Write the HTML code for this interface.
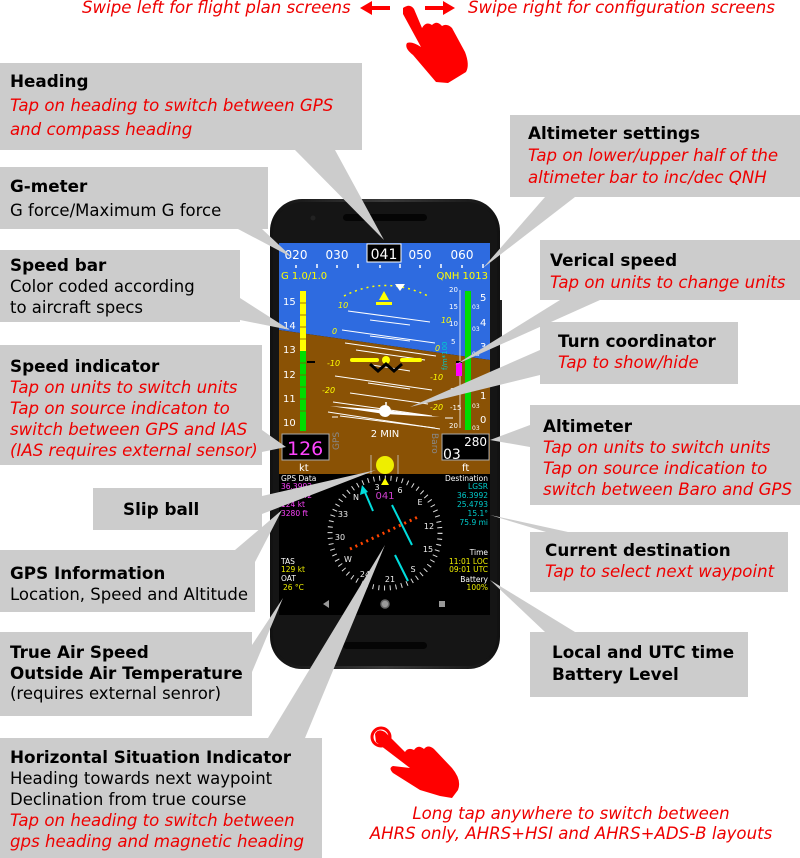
<!DOCTYPE html>
<html><head><meta charset="utf-8"><style>
html,body{margin:0;padding:0;background:#fff;width:800px;height:858px;overflow:hidden}
svg{display:block;font-family:"DejaVu Sans","Liberation Sans",sans-serif}
.t{font-weight:bold;font-size:16.8px;fill:#000}
.b{font-size:16.5px;fill:#000}
.r{font-size:16.6px;fill:#e00;font-style:italic}
.g{fill:#cccccc}
</style></head><body>
<svg width="800" height="858" viewBox="0 0 800 858">
<defs>
<clipPath id="scr"><rect x="279" y="243" width="211" height="372"/></clipPath>
<linearGradient id="ph" x1="0" y1="0" x2="1" y2="0"><stop offset="0" stop-color="#111"/><stop offset="0.5" stop-color="#3a3a3a"/><stop offset="1" stop-color="#111"/></linearGradient>
</defs>
<!-- top text -->
<text x="82" y="13" class="r">Swipe left for flight plan screens</text>
<text x="468" y="13" class="r">Swipe right for configuration screens</text>
<path d="M360 8 L372 1 L372 6 L390 6 L390 10 L372 10 L372 15 Z" fill="#f00"/>
<path d="M455 8 L443 1 L443 6 L425 6 L425 10 L443 10 L443 15 Z" fill="#f00"/>
<path d="M403 8 Q410 3 414 9 L422 28 Q426 21 432 25 Q437 20 442 26 Q447 23 452 28 L465 52 Q470 65 466 72 L448 83 L436 82 L413 55 Q404 48 407 43 Q412 41 421 47 L403 14 Z" fill="#f00"/>
<!-- bottom hand -->
<circle cx="381" cy="737" r="9" fill="none" stroke="#f00" stroke-width="3"/>
<path d="M375 734 Q378 728 385 732 L405 752 Q408 747 414 750 Q418 744 424 749 Q428 744 434 749 L452 768 Q462 780 458 790 L452 798 L440 796 L420 790 L393 773 Q388 768 393 766 L410 768 L376 742 Z" fill="#f00"/>
<text x="571" y="819" class="r" text-anchor="middle">Long tap anywhere to switch between</text>
<text x="571" y="839" class="r" text-anchor="middle">AHRS only, AHRS+HSI and AHRS+ADS-B layouts</text>

<!-- phone -->
<rect x="498" y="300" width="4" height="40" fill="#222"/>
<rect x="270" y="199" width="230" height="470" rx="32" fill="url(#ph)"/>
<rect x="273" y="202" width="224" height="464" rx="30" fill="#151515"/>
<rect x="343" y="214" width="84" height="7" rx="3.5" fill="#050505"/>
<circle cx="313" cy="218" r="2.5" fill="#222"/>
<rect x="343" y="642" width="84" height="7" rx="3.5" fill="#050505"/>
<rect x="279" y="243" width="211" height="372" fill="#000"/>
<g clip-path="url(#scr)">
<polygon points="279,243 490,243 490,360 279,330" fill="#2e6be0"/>
<polygon points="279,330 490,360 490,474 279,474" fill="#8a5205"/>
<g fill="#fff" font-size="12" text-anchor="middle">
<text x="296" y="259">020</text><text x="337" y="259">030</text><text x="420" y="259">050</text><text x="462" y="259">060</text></g>
<rect x="367" y="244" width="34" height="18" fill="#000" stroke="#fff" stroke-width="1"/>
<text x="384" y="259" fill="#fff" font-size="14" text-anchor="middle">041</text>
<g stroke="#fff" stroke-width="1.5"><line x1="296" y1="265" x2="296" y2="268"/><line x1="317" y1="264" x2="317" y2="268"/><line x1="337" y1="265" x2="337" y2="268"/><line x1="358" y1="264" x2="358" y2="268"/><line x1="380" y1="265" x2="380" y2="268"/><line x1="400" y1="264" x2="400" y2="268"/><line x1="420" y1="265" x2="420" y2="268"/><line x1="441" y1="264" x2="441" y2="268"/><line x1="462" y1="265" x2="462" y2="268"/><line x1="483" y1="264" x2="483" y2="268"/></g>
<text x="281" y="279" fill="#ff0" font-size="10">G 1.0/1.0</text>
<text x="488" y="279" fill="#ff0" font-size="10" text-anchor="end">QNH 1013</text>
<path d="M344 296 Q385 275 428 296" fill="none" stroke="#ff0" stroke-width="1.5" stroke-dasharray="2 4"/>
<polygon points="395,284 405,284 400,291" fill="#fff"/>
<polygon points="384,291 379,300 389,300" fill="#ff0"/>
<rect x="376" y="302" width="16" height="3" fill="#ff0"/>
<g stroke="#fff" stroke-width="1">
<line x1="348" y1="311" x2="430" y2="322"/><line x1="370" y1="320" x2="410" y2="325"/>
<line x1="342" y1="330" x2="435" y2="343"/><line x1="370" y1="336" x2="410" y2="341"/>
<line x1="356" y1="350" x2="425" y2="360"/>
<line x1="345" y1="343" x2="436" y2="356"/>
<line x1="372" y1="365" x2="410" y2="371"/>
<line x1="335" y1="376" x2="432" y2="390"/><line x1="368" y1="383" x2="410" y2="389"/>
<line x1="350" y1="393" x2="428" y2="404"/>
<line x1="333" y1="402" x2="432" y2="416"/>
<line x1="340" y1="416" x2="435" y2="428"/>
<line x1="328" y1="412" x2="440" y2="429"/>
<line x1="332" y1="417" x2="338" y2="417"/><line x1="445" y1="418" x2="453" y2="418"/>
</g>
<g fill="#ff0" font-size="8" font-style="italic">
<text x="338" y="308">10</text><text x="441" y="323">10</text><text x="332" y="334">0</text><text x="435" y="351">0</text>
<text x="327" y="366">-10</text><text x="430" y="380">-10</text><text x="322" y="393">-20</text><text x="430" y="410">-20</text></g>
<rect x="350" y="358" width="29" height="4" rx="2" fill="#ff0"/>
<rect x="400" y="358" width="22" height="4" rx="2" fill="#ff0"/>
<circle cx="386" cy="360" r="4" fill="#ff0"/>
<path d="M370 364 L378 371 L386 364 L394 371 L402 364" fill="none" stroke="#000" stroke-width="3"/>
<polygon points="330,406 385,410 440,417 385,414" fill="#fff"/>
<line x1="386" y1="402" x2="386" y2="410" stroke="#fff" stroke-width="1.5"/>
<circle cx="385" cy="411" r="6" fill="#fff"/>
<text x="385" y="437" fill="#fff" font-size="10" text-anchor="middle">2 MIN</text>
<rect x="300" y="291" width="6" height="60" fill="#ff0"/>
<rect x="300" y="351" width="6" height="80" fill="#0d0"/>
<g stroke="#8a5205" stroke-width="0.8"><line x1="300" y1="303" x2="306" y2="303"/><line x1="300" y1="315" x2="306" y2="315"/><line x1="300" y1="327" x2="306" y2="327"/><line x1="300" y1="339" x2="306" y2="339"/><line x1="300" y1="363" x2="306" y2="363"/><line x1="300" y1="375" x2="306" y2="375"/><line x1="300" y1="387" x2="306" y2="387"/><line x1="300" y1="399" x2="306" y2="399"/><line x1="300" y1="411" x2="306" y2="411"/></g>
<path d="M307 362 L315 362" stroke="#000" stroke-width="2"/>
<g fill="#fff" font-size="10"><text x="283" y="305">15</text><text x="283" y="329">14</text><text x="283" y="353">13</text><text x="283" y="378">12</text><text x="283" y="402">11</text><text x="283" y="426">10</text></g>
<rect x="282" y="434" width="47" height="26" fill="#000" stroke="#aaa" stroke-width="1"/>
<text x="287" y="455" fill="#ff44ff" font-size="19">126</text>
<text x="299" y="471" fill="#fff" font-size="10">kt</text>
<text transform="translate(339,450) rotate(-90)" fill="#888" font-size="9">GPS</text>
<line x1="460" y1="290" x2="460" y2="428" stroke="#fff" stroke-width="0.8"/>
<g fill="#fff" font-size="7"><text x="449" y="292">20</text><text x="449" y="309">15</text><text x="449" y="326">10</text><text x="451" y="344">5</text><text x="450" y="393">15</text><text x="450" y="410">-15</text><text x="449" y="428">20</text></g>
<text transform="translate(447,370) rotate(-90)" fill="#0cc" font-size="7">f/m*100</text>
<rect x="456" y="362" width="6" height="14" fill="#f0f"/>
<rect x="465" y="291" width="6" height="139" fill="#0d0"/>
<g fill="#fff" font-size="6"><text x="472" y="309">03</text><text x="472" y="331">03</text><text x="472" y="356">03</text><text x="472" y="408">03</text><text x="472" y="430">03</text></g>
<g fill="#fff" font-size="10"><text x="480" y="301">5</text><text x="480" y="326">4</text><text x="480" y="350">3</text><text x="480" y="399">1</text><text x="480" y="423">0</text></g>
<path d="M456 362 L462 362" stroke="#000" stroke-width="2"/>
<rect x="442" y="434" width="47" height="26" fill="#000" stroke="#aaa" stroke-width="1"/>
<text x="487" y="446" fill="#fff" font-size="12" text-anchor="end">280</text>
<text x="443" y="459" fill="#fff" font-size="14">03</text>
<text x="462" y="471" fill="#fff" font-size="10">ft</text>
<text transform="translate(432,433) rotate(90)" fill="#888" font-size="9">Baro</text>
<line x1="371" y1="455" x2="371" y2="474" stroke="#ccc" stroke-width="0.8"/>
<line x1="398" y1="455" x2="398" y2="474" stroke="#ccc" stroke-width="0.8"/>
<circle cx="385" cy="465" r="9" fill="#ee0"/>
<circle cx="385" cy="533" r="55" fill="none" stroke="#ddd" stroke-width="5" stroke-dasharray="1 4.75"/>
<g fill="#eee" font-size="8" text-anchor="middle">
<text x="377" y="490">3</text><text x="400" y="493">6</text><text x="420" y="505">E</text><text x="429" y="529">12</text><text x="428" y="552">15</text><text x="413" y="572">S</text><text x="390" y="582">21</text><text x="365" y="577">24</text><text x="348" y="562">W</text><text x="340" y="540">30</text><text x="343" y="517">33</text><text x="356" y="500">N</text></g>
<polygon points="381,485 385,478 389,485" fill="#ff0"/>
<text x="385" y="499" fill="#d040d0" font-size="10" text-anchor="middle">041</text>
<g stroke="#0dd" stroke-width="2"><line x1="392" y1="505" x2="412" y2="545"/><line x1="395" y1="555" x2="408" y2="581"/><line x1="373" y1="511" x2="364" y2="490"/></g>
<polygon points="362,485 360,495 368,492" fill="#0dd"/>
<line x1="350" y1="549" x2="420" y2="516" stroke="#f40" stroke-width="3" stroke-dasharray="2 4"/>
<g font-size="7.5">
<text x="281" y="481" fill="#fff">GPS Data</text>
<text x="281" y="489" fill="#f4f">36.3992</text>
<text x="281" y="498" fill="#f4f">25.1242</text>
<text x="281" y="507" fill="#f4f">124 kt</text>
<text x="281" y="516" fill="#f4f">3280 ft</text>
<text x="281" y="564" fill="#fff">TAS</text>
<text x="281" y="572" fill="#ee0">129 kt</text>
<text x="281" y="581" fill="#fff">OAT</text>
<text x="283" y="590" fill="#ee0">26 °C</text>
<g text-anchor="end">
<text x="488" y="481" fill="#fff">Destination</text>
<text x="488" y="489" fill="#0cc">LGSR</text>
<text x="488" y="498" fill="#0cc">36.3992</text>
<text x="488" y="507" fill="#0cc">25.4793</text>
<text x="488" y="516" fill="#0cc">15.1°</text>
<text x="488" y="525" fill="#0cc">75.9 mi</text>
<text x="488" y="555" fill="#fff">Time</text>
<text x="488" y="564" fill="#ee0">11:01 LOC</text>
<text x="488" y="572" fill="#ee0">09:01 UTC</text>
<text x="488" y="582" fill="#fff">Battery</text>
<text x="488" y="590" fill="#ee0">100%</text></g></g>
<polygon points="323,604 329,600 329,608" fill="#999"/>
<circle cx="385" cy="604" r="4" fill="#999" stroke="#666" stroke-width="1.5"/>
<rect x="439" y="601" width="6" height="6" fill="#999"/>
</g>

<g class="g">
<polygon points="295,150 335,150 384,240"/>
<polygon points="545,197 575,197 483,268"/>
<polygon points="238,229 262,229 293,258"/>
<polygon points="240,298 240,320 290,330"/>
<polygon points="560,300 600,300 455,365"/>
<polygon points="540,350 540,375 410,407"/>
<polygon points="262,430 262,452 286,447"/>
<polygon points="530,425 530,447 490,440"/>
<polygon points="262,496 262,514 376,470"/>
<polygon points="235,550 255,562 282,510"/>
<polygon points="546,532 568,532 490,515"/>
<polygon points="252,645 252,672 283,598"/>
<polygon points="545,632 575,632 490,580"/>
<polygon points="268,738 305,738 385,545"/>
<rect x="0" y="63" width="362" height="87"/>
<rect x="510" y="115" width="290" height="82"/>
<rect x="0" y="167" width="268" height="62"/>
<rect x="0" y="250" width="240" height="72"/>
<rect x="540" y="240" width="260" height="60"/>
<rect x="540" y="322" width="198" height="62"/>
<rect x="0" y="345" width="262" height="120"/>
<rect x="530" y="405" width="270" height="100"/>
<rect x="93" y="488" width="169" height="42"/>
<rect x="530" y="532" width="258" height="60"/>
<rect x="0" y="550" width="255" height="62"/>
<rect x="0" y="632" width="252" height="84"/>
<rect x="530" y="632" width="218" height="65"/>
<rect x="0" y="738" width="322" height="120"/>
</g>
<text x="10" y="87" class="t">Heading</text>
<text x="10" y="111" class="r">Tap on heading to switch between GPS</text>
<text x="10" y="135" class="r">and compass heading</text>
<text x="528" y="139" class="t">Altimeter settings</text>
<text x="528" y="161" class="r">Tap on lower/upper half of the</text>
<text x="528" y="183" class="r">altimeter bar to inc/dec QNH</text>
<text x="10" y="192" class="t">G-meter</text>
<text x="10" y="216" class="b">G force/Maximum G force</text>
<text x="10" y="271" class="t">Speed bar</text>
<text x="10" y="292" class="b">Color coded according</text>
<text x="10" y="313" class="b">to aircraft specs</text>
<text x="550" y="266" class="t">Verical speed</text>
<text x="550" y="288" class="r">Tap on units to change units</text>
<text x="558" y="347" class="t">Turn coordinator</text>
<text x="558" y="368" class="r">Tap to show/hide</text>
<text x="10" y="372" class="t">Speed indicator</text>
<text x="10" y="393" class="r">Tap on units to switch units</text>
<text x="10" y="414" class="r">Tap on source indicaton to</text>
<text x="10" y="435" class="r">switch between GPS and IAS</text>
<text x="10" y="456" class="r">(IAS requires external sensor)</text>
<text x="543" y="432" class="t">Altimeter</text>
<text x="543" y="453" class="r">Tap on units to switch units</text>
<text x="543" y="474" class="r">Tap on source indication to</text>
<text x="543" y="495" class="r">switch between Baro and GPS</text>
<text x="123" y="515" class="t">Slip ball</text>
<text x="545" y="556" class="t">Current destination</text>
<text x="545" y="577" class="r">Tap to select next waypoint</text>
<text x="10" y="579" class="t">GPS Information</text>
<text x="10" y="600" class="b">Location, Speed and Altitude</text>
<text x="10" y="658" class="t">True Air Speed</text>
<text x="10" y="679" class="t">Outside Air Temperature</text>
<text x="10" y="699" class="b">(requires external senror)</text>
<text x="552" y="658" class="t">Local and UTC time</text>
<text x="552" y="680" class="t">Battery Level</text>
<text x="10" y="763" class="t">Horizontal Situation Indicator</text>
<text x="10" y="784" class="b">Heading towards next waypoint</text>
<text x="10" y="805" class="b">Declination from true course</text>
<text x="10" y="826" class="r">Tap on heading to switch between</text>
<text x="10" y="847" class="r">gps heading and magnetic heading</text>
</svg>
</body></html>
